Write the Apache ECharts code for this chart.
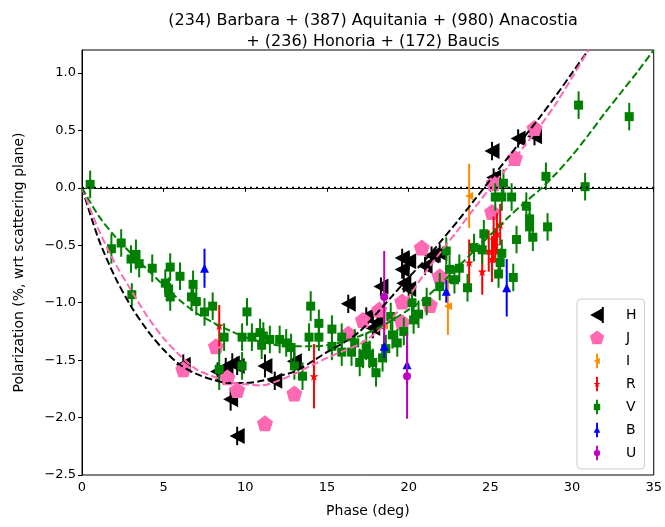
<!DOCTYPE html>
<html>
<head>
<meta charset="utf-8">
<script src="https://cdn.jsdelivr.net/npm/echarts@6/dist/echarts.min.js"></script>
<style>
  html, body { margin: 0; padding: 0; background: #fff; }
  #chart { width: 665px; height: 527px; }
</style>
</head>
<body>
<div id="chart"></div>
<script>
// [phase, polarization, error] per band
const H = [
  [6.2, -1.54, 0.09], [8.3, -1.6, 0.08], [8.8, -1.56, 0.08], [9.2, -1.53, 0.09], [9.5, -1.55, 0.08],
  [9.1, -1.84, 0.1], [9.5, -2.16, 0.08], [11.2, -1.55, 0.1], [11.8, -1.68, 0.08], [13.0, -1.51, 0.08],
  [16.3, -1.01, 0.08], [17.4, -1.12, 0.08], [17.8, -1.22, 0.09], [18.1, -1.17, 0.08], [18.3, -0.86, 0.08],
  [19.6, -0.61, 0.08], [19.6, -0.71, 0.08], [19.7, -0.83, 0.08], [20.0, -0.64, 0.08], [20.0, -0.88, 0.08],
  [21.0, -0.68, 0.08], [21.4, -0.59, 0.08], [21.9, -0.57, 0.08], [25.1, 0.32, 0.08], [25.2, 0.09, 0.08],
  [26.7, 0.43, 0.08], [27.7, 0.45, 0.08]
]
const J = [
  [6.2, -1.58, 0.06], [8.2, -1.38, 0.06], [8.9, -1.65, 0.05], [9.5, -1.76, 0.06], [11.2, -2.05, 0.06],
  [13.0, -1.79, 0.06], [16.3, -1.27, 0.06], [17.2, -1.15, 0.06], [18.2, -1.06, 0.06], [19.6, -0.99, 0.06],
  [19.6, -1.17, 0.06], [20.8, -0.52, 0.06], [21.3, -1.02, 0.06], [21.9, -0.77, 0.06], [25.1, -0.21, 0.06],
  [25.2, 0.04, 0.06], [26.5, 0.26, 0.06], [27.7, 0.52, 0.06]
]
const I = [[18.5, -1.2, 0.15], [22.4, -1.03, 0.25], [23.7, -0.07, 0.28]]
const R = [
  [8.4, -1.2, 0.18], [14.2, -1.64, 0.28], [23.7, -0.65, 0.2], [24.5, -0.73, 0.2], [24.9, -0.55, 0.18],
  [25.1, -0.62, 0.2], [25.2, -0.45, 0.2], [25.4, -0.4, 0.18], [25.6, -0.32, 0.18], [25.3, -0.5, 0.15]
]
const V = [
  [0.5, 0.03, 0.12], [1.8, -0.53, 0.13], [2.4, -0.48, 0.12], [3.0, -0.62, 0.12], [3.3, -0.58, 0.13],
  [3.5, -0.66, 0.12], [3.05, -0.93, 0.1], [4.3, -0.7, 0.12], [5.1, -0.83, 0.12], [5.4, -0.69, 0.12],
  [5.3, -0.88, 0.1], [5.4, -0.95, 0.12], [6.0, -0.77, 0.12], [6.7, -0.95, 0.12], [6.8, -0.84, 0.12],
  [7.0, -0.99, 0.12], [7.5, -1.08, 0.12], [8.0, -1.03, 0.12], [8.7, -1.3, 0.12], [8.4, -1.58, 0.18],
  [9.8, -1.3, 0.12], [9.8, -1.55, 0.12], [10.1, -1.08, 0.12], [10.4, -1.3, 0.12], [10.9, -1.26, 0.12],
  [11.1, -1.29, 0.12], [11.5, -1.32, 0.12], [11.0, -1.37, 0.12], [12.1, -1.32, 0.12], [12.5, -1.35, 0.12],
  [12.8, -1.39, 0.12], [13.5, -1.64, 0.12], [13.0, -1.55, 0.12], [13.9, -1.3, 0.12], [14.0, -1.03, 0.13],
  [14.5, -1.18, 0.12], [14.5, -1.3, 0.12], [15.3, -1.23, 0.12], [15.3, -1.38, 0.12], [15.9, -1.43, 0.12],
  [15.9, -1.3, 0.12], [16.5, -1.43, 0.12], [16.7, -1.35, 0.12], [17.0, -1.52, 0.12], [17.2, -1.45, 0.12],
  [17.4, -1.38, 0.12], [17.6, -1.45, 0.12], [17.8, -1.52, 0.12], [18.0, -1.61, 0.12], [18.4, -1.48, 0.12],
  [18.6, -1.4, 0.12], [18.9, -1.12, 0.12], [19.0, -1.28, 0.12], [19.3, -1.35, 0.12], [19.7, -1.25, 0.12],
  [20.2, -1.0, 0.12], [20.3, -1.15, 0.12], [20.6, -1.1, 0.12], [21.1, -0.99, 0.12], [21.9, -0.86, 0.12],
  [22.3, -0.55, 0.12], [22.5, -0.71, 0.12], [22.8, -0.8, 0.12], [23.1, -0.7, 0.12], [23.6, -0.87, 0.12],
  [24.0, -0.52, 0.12], [24.5, -0.54, 0.12], [24.6, -0.4, 0.12], [25.3, -0.08, 0.12], [25.7, -0.08, 0.12],
  [25.8, 0.04, 0.12], [26.3, -0.08, 0.12], [25.7, -0.57, 0.12], [25.6, -0.65, 0.12], [25.5, -0.75, 0.12],
  [26.4, -0.78, 0.12], [26.6, -0.45, 0.12], [27.2, -0.16, 0.12], [27.4, -0.27, 0.12], [27.4, -0.34, 0.12],
  [27.6, -0.43, 0.12], [28.5, -0.34, 0.12], [28.4, 0.1, 0.12], [30.4, 0.72, 0.12], [30.8, 0.01, 0.12],
  [33.5, 0.62, 0.12]
]
const B = [[7.5, -0.7, 0.17], [18.5, -1.38, 0.1], [19.9, -1.54, 0.17], [22.3, -0.9, 0.1], [26.0, -0.87, 0.25]]
const U = [[18.5, -0.95, 0.4], [19.9, -1.64, 0.37]]

// fitted curves
const fitPhase = [0, 1, 2, 3, 4, 5, 6, 7, 8, 9, 10, 11, 12, 13, 14, 15, 16, 17, 18, 19, 20, 21, 22, 23, 24, 25, 26, 27, 28, 29, 30, 31, 32]
const fitH = [0, -0.44, -0.77, -1.03, -1.24, -1.41, -1.54, -1.62, -1.67, -1.7, -1.7, -1.68, -1.64, -1.6, -1.52, -1.43, -1.35, -1.25, -1.1, -0.94, -0.78, -0.63, -0.46, -0.29, -0.11, 0.07, 0.25, 0.43, 0.61, 0.8, 1.0, 1.2, 1.41]
const fitJ = [0, -0.36, -0.65, -0.89, -1.12, -1.31, -1.46, -1.58, -1.64, -1.69, -1.71, -1.72, -1.68, -1.62, -1.55, -1.48, -1.42, -1.36, -1.26, -1.13, -0.95, -0.74, -0.55, -0.37, -0.18, 0.0, 0.17, 0.35, 0.53, 0.73, 0.96, 1.2, 1.45]
const fitPhaseV = [0, 1, 2, 3, 4, 5, 6, 7, 8, 9, 10, 11, 12, 13, 14, 15, 16, 17, 18, 19, 20, 21, 22, 23, 24, 25, 26, 27, 28, 29, 30, 31, 32, 33, 34, 35]
const fitV = [0, -0.24, -0.42, -0.57, -0.71, -0.85, -0.98, -1.09, -1.17, -1.24, -1.3, -1.34, -1.37, -1.38, -1.38, -1.37, -1.34, -1.29, -1.23, -1.15, -1.06, -0.96, -0.83, -0.69, -0.55, -0.41, -0.27, -0.14, -0.02, 0.12, 0.28, 0.46, 0.65, 0.83, 1.01, 1.2]

const yTicks = [-2.5, -2.0, -1.5, -1.0, -0.5, 0.0, 0.5, 1.0]

const pentagon = 'path://M0,-1 L0.951,-0.309 L0.588,0.809 L-0.588,0.809 L-0.951,-0.309 Z'
const star = 'path://M0,-1 L0.22,-0.31 L0.95,-0.31 L0.36,0.12 L0.59,0.81 L0,0.38 L-0.59,0.81 L-0.36,0.12 L-0.95,-0.31 L-0.22,-0.31 Z'

// legend icons: marker + error bar, corners keep them the same scale
const box = 'M-1,-1 L-1,-1 M1,1 L1,1 '
const bar = 'M-0.12,-0.9 L0.12,-0.9 L0.12,0.9 L-0.12,0.9 Z '
const bands = [
  { name: 'H', data: H, color: '#000000', symbol: 'triangle', size: [16, 15], rotate: 90,
    icon: 'path://' + box + 'M0.85,-0.95 L0.85,0.95 L-0.85,0 Z M0.6,-1 L0.85,-1 L0.85,1 L0.6,1 Z' },
  { name: 'J', data: J, color: '#ff69b4', symbol: pentagon, size: 16, rotate: 0,
    icon: 'path://' + box + 'M0,-0.95 L0.9,-0.29 L0.56,0.77 L-0.56,0.77 L-0.9,-0.29 Z' },
  { name: 'I', data: I, color: '#ff8c00', symbol: 'triangle', size: [8, 8], rotate: 90,
    icon: 'path://' + box + bar + 'M0.35,-0.4 L0.35,0.4 L-0.4,0 Z' },
  { name: 'R', data: R, color: '#ff0000', symbol: star, size: 9, rotate: 0,
    icon: 'path://' + box + bar + 'M0,-0.45 L0.1,-0.14 L0.43,-0.14 L0.16,0.05 L0.27,0.36 L0,0.17 L-0.27,0.36 L-0.16,0.05 L-0.43,-0.14 L-0.1,-0.14 Z' },
  { name: 'V', data: V, color: '#008000', symbol: 'rect', size: 9, rotate: 0,
    icon: 'path://' + box + bar + 'M-0.4,-0.4 L0.4,-0.4 L0.4,0.4 L-0.4,0.4 Z' },
  { name: 'B', data: B, color: '#0000ff', symbol: 'triangle', size: 9, rotate: 0,
    icon: 'path://' + box + bar + 'M0,-0.45 L0.42,0.35 L-0.42,0.35 Z' },
  { name: 'U', data: U, color: '#bf00bf', symbol: 'circle', size: 8, rotate: 0,
    icon: 'path://' + box + bar + 'M0,-0.42 L0.3,-0.3 L0.42,0 L0.3,0.3 L0,0.42 L-0.3,0.3 L-0.42,0 L-0.3,-0.3 Z' }
]

function errorBar(color) {
  return function (params, api) {
    const x = api.value(0), y = api.value(1), e = api.value(2)
    const p1 = api.coord([x, y - e])
    const p2 = api.coord([x, y + e])
    return {
      type: 'line',
      shape: { x1: p1[0], y1: p1[1], x2: p2[0], y2: p2[1] },
      style: { stroke: color, lineWidth: 2 }
    }
  }
}

const series = []
bands.forEach(function (b, i) {
  series.push({
    name: b.name + ' err',
    type: 'custom',
    renderItem: errorBar(b.color),
    data: b.data,
    encode: { x: 0, y: 1 },
    z: 2 + i * 2,
    silent: true
  })
  series.push({
    name: b.name,
    type: 'scatter',
    data: b.data.map(function (d) { return [d[0], d[1]] }),
    symbol: b.symbol,
    symbolSize: b.size,
    symbolRotate: b.rotate,
    itemStyle: { color: b.color, opacity: 1 },
    z: 3 + i * 2
  })
})

const dash = [7.4, 3.2]
series.push(
  {
    name: 'fitH', type: 'line', data: fitPhase.map(function (x, i) { return [x, fitH[i]] }),
    showSymbol: false, smooth: 0.3, lineStyle: { color: '#000', width: 2, type: dash }, z: 20
  },
  {
    name: 'fitJ', type: 'line', data: fitPhase.map(function (x, i) { return [x, fitJ[i]] }),
    showSymbol: false, smooth: 0.3, lineStyle: { color: '#ff69b4', width: 2, type: dash }, z: 20
  },
  {
    name: 'fitV', type: 'line', data: fitPhaseV.map(function (x, i) { return [x, fitV[i]] }),
    showSymbol: false, smooth: 0.3, lineStyle: { color: '#008000', width: 2, type: dash }, z: 20
  },
  {
    name: 'zero', type: 'line', data: [[0, 0], [35, 0]],
    showSymbol: false, lineStyle: { color: '#000', width: 2, type: [2, 4] }, z: 21
  }
)

const font = 'DejaVu Sans'
const chart = echarts.init(document.getElementById('chart'), null, { renderer: 'canvas' })
chart.setOption({
  animation: false,
  backgroundColor: '#fff',
  title: {
    text: '(234) Barbara + (387) Aquitania + (980) Anacostia\n+ (236) Honoria + (172) Baucis',
    left: 368,
    top: 5,
    textAlign: 'center',
    textStyle: { fontFamily: font, fontSize: 16, fontWeight: 'normal', color: '#000', lineHeight: 21 }
  },
  grid: {
    left: 82, right: 10, top: 50, bottom: 52,
    show: true, borderColor: '#000', borderWidth: 1
  },
  legend: {
    orient: 'vertical',
    left: 577,
    top: 299,
    padding: [8, 8, 8, 12],
    itemWidth: 16,
    itemHeight: 16,
    itemGap: 7,
    borderColor: '#cccccc',
    borderWidth: 1,
    borderRadius: 4,
    backgroundColor: 'rgba(255,255,255,0.8)',
    textStyle: { fontFamily: font, fontSize: 14, color: '#000', padding: [0, 0, 0, 16] },
    data: bands.map(function (b) { return { name: b.name, icon: b.icon } })
  },
  xAxis: {
    type: 'value',
    min: 0,
    max: 35,
    interval: 5,
    name: 'Phase (deg)',
    nameLocation: 'middle',
    nameGap: 29,
    nameTextStyle: { fontFamily: font, fontSize: 14, color: '#000' },
    axisLine: { show: true, lineStyle: { color: '#000', width: 1 } },
    axisTick: { show: true, inside: false, length: 4, lineStyle: { color: '#000' } },
    axisLabel: { fontFamily: font, fontSize: 13, color: '#000', margin: 6 },
    splitLine: { show: false }
  },
  yAxis: {
    type: 'value',
    min: -2.5,
    max: 1.2,
    name: 'Polarization (%, wrt scattering plane)',
    nameLocation: 'middle',
    nameGap: 56,
    nameTextStyle: { fontFamily: font, fontSize: 14, color: '#000' },
    axisLine: { show: true, lineStyle: { color: '#000', width: 1 } },
    axisTick: { show: true, inside: false, length: 4, lineStyle: { color: '#000' }, customValues: yTicks },
    axisLabel: {
      fontFamily: font, fontSize: 13, color: '#000', margin: 6,
      customValues: yTicks,
      formatter: function (v) { return (v < 0 ? '\u2212' : '') + Math.abs(v).toFixed(1) }
    },
    splitLine: { show: false }
  },
  series: series
})
</script>
</body>
</html>
